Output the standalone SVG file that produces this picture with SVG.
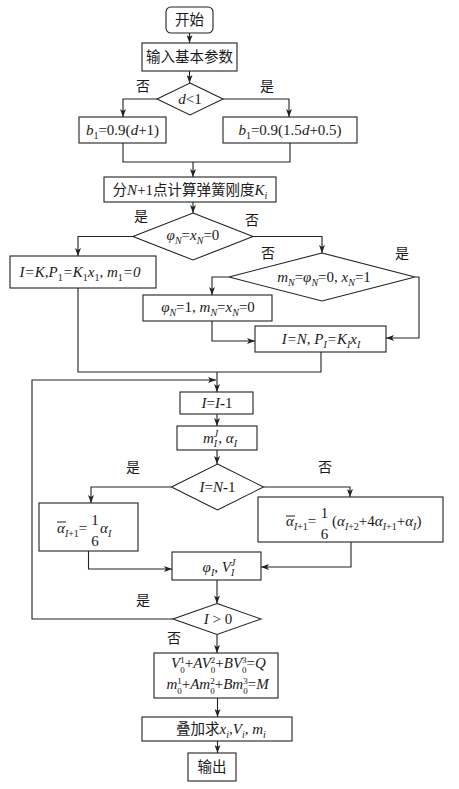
<svg xmlns="http://www.w3.org/2000/svg" width="459" height="789" viewBox="0 0 459 789">
<style>
.n{fill:#fff;stroke:#222;stroke-width:1.1}
.ln{fill:none;stroke:#222;stroke-width:1.1}
.m{font-family:"Liberation Serif","Noto Sans CJK SC",serif;font-size:15px;fill:#1a1a1a}
.mc{text-anchor:middle}
.i{font-style:italic}
.s{font-size:10px}
.t{font-size:9px}
.cj{font-family:"Noto Sans CJK SC",sans-serif;font-size:14.5px}
.lb{font-family:"Noto Sans CJK SC",sans-serif;font-size:14px;fill:#1a1a1a;text-anchor:middle}
</style>
<defs>
<marker id="a" viewBox="0 0 8 6" refX="8" refY="3" markerWidth="8" markerHeight="6" orient="auto" markerUnits="userSpaceOnUse"><path d="M0,0 L8,3 L0,6 L2,3 z" fill="#222"/></marker>
</defs>
<rect width="459" height="789" fill="#fff"/>
<g id="connectors">
<path class="ln" d="M189.5,33 V43" marker-end="url(#a)"/>
<path class="ln" d="M189.5,71 V83" marker-end="url(#a)"/>
<path class="ln" d="M157,99 H123 V117" marker-end="url(#a)"/>
<path class="ln" d="M223,99 H289 V117" marker-end="url(#a)"/>
<path class="ln" d="M123,143 V162 H290 V143"/>
<path class="ln" d="M193,162 V177" marker-end="url(#a)"/>
<path class="ln" d="M193,202 V213" marker-end="url(#a)"/>
<path class="ln" d="M133,236.5 H78 V256" marker-end="url(#a)"/>
<path class="ln" d="M253,236.5 H322 V253" marker-end="url(#a)"/>
<path class="ln" d="M229,277 H212 V295" marker-end="url(#a)"/>
<path class="ln" d="M415,277 H419 V338 H386" marker-end="url(#a)"/>
<path class="ln" d="M212,321 V341 H255" marker-end="url(#a)"/>
<path class="ln" d="M78,288 V372 H321 V352"/>
<path class="ln" d="M217,372 V392" marker-end="url(#a)"/>
<path class="ln" d="M173,619 H32 V380 H216" marker-end="url(#a)"/>
<path class="ln" d="M217,414 V426" marker-end="url(#a)"/>
<path class="ln" d="M217,450 V464" marker-end="url(#a)"/>
<path class="ln" d="M171.5,487 H91 V503" marker-end="url(#a)"/>
<path class="ln" d="M263.5,487 H350 V497" marker-end="url(#a)"/>
<path class="ln" d="M88.5,551 V569 H172" marker-end="url(#a)"/>
<path class="ln" d="M351,542 V567 H261" marker-end="url(#a)"/>
<path class="ln" d="M217,580 V603.5" marker-end="url(#a)"/>
<path class="ln" d="M217,634.5 V653" marker-end="url(#a)"/>
<path class="ln" d="M217.5,698 V717" marker-end="url(#a)"/>
<path class="ln" d="M217.5,741 V753" marker-end="url(#a)"/>
</g>
<g id="labels">
<text class="lb" x="143" y="91">否</text>
<text class="lb" x="267" y="91">是</text>
<text class="lb" x="141" y="221">是</text>
<text class="lb" x="252" y="225">否</text>
<text class="lb" x="268" y="258">否</text>
<text class="lb" x="402" y="258">是</text>
<text class="lb" x="133" y="472">是</text>
<text class="lb" x="325" y="472">否</text>
<text class="lb" x="143" y="605">是</text>
<text class="lb" x="174" y="643">否</text>
</g>
<g id="start">
<rect class="n" x="166" y="7" width="47" height="26" rx="5"/>
<text class="m mc" x="189.5" y="25"><tspan class="cj">开始</tspan></text>
</g>
<g id="input">
<rect class="n" x="142" y="43" width="95" height="28"/>
<text class="m mc" x="189.5" y="62"><tspan class="cj">输入基本参数</tspan></text>
</g>
<g id="dec-d">
<polygon class="n" points="190,83 223,99 190,115 157,99"/>
<text class="m mc" x="190" y="104"><tspan class="i">d</tspan>&lt;1</text>
</g>
<g id="b1-left">
<rect class="n" x="79" y="117" width="87" height="26"/>
<text class="m mc" x="122.5" y="135"><tspan class="i">b</tspan><tspan class="s" dy="4">1</tspan><tspan dy="-4">=0.9(</tspan><tspan class="i">d</tspan>+1)</text>
</g>
<g id="b1-right">
<rect class="n" x="223" y="117" width="134" height="26"/>
<text class="m mc" x="290" y="135"><tspan class="i">b</tspan><tspan class="s" dy="4">1</tspan><tspan dy="-4">=0.9(1.5</tspan><tspan class="i">d</tspan>+0.5)</text>
</g>
<g id="stiffness">
<rect class="n" x="104" y="177" width="172" height="25"/>
<text class="m mc" x="190" y="195"><tspan class="cj">分</tspan><tspan class="i">N</tspan>+1<tspan class="cj">点计算弹簧刚度</tspan><tspan class="i">K</tspan><tspan class="s i" dy="4">i</tspan></text>
</g>
<g id="dec-phi">
<polygon class="n" points="193,213 253,236.5 193,260 133,236.5"/>
<text class="m mc" x="193" y="240"><tspan class="i">φ</tspan><tspan class="s i" dy="4">N</tspan><tspan dy="-4">=</tspan><tspan class="i">x</tspan><tspan class="s i" dy="4">N</tspan><tspan dy="-4">=0</tspan></text>
</g>
<g id="init-k">
<rect class="n" x="10" y="256" width="146" height="32"/>
<text class="m mc i" x="80" y="277">I=K,P<tspan class="s" dy="4" font-style="normal">1</tspan><tspan dy="-4">=K</tspan><tspan class="s" dy="4" font-style="normal">1</tspan><tspan dy="-4">x</tspan><tspan class="s" dy="4" font-style="normal">1</tspan><tspan dy="-4">, m</tspan><tspan class="s" dy="4" font-style="normal">1</tspan><tspan dy="-4">=0</tspan></text>
</g>
<g id="dec-m">
<polygon class="n" points="322,253 415,277 322,301 229,277"/>
<text class="m mc" x="324" y="282"><tspan class="i">m</tspan><tspan class="s i" dy="4">N</tspan><tspan dy="-4">=</tspan><tspan class="i">φ</tspan><tspan class="s i" dy="4">N</tspan><tspan dy="-4">=0, </tspan><tspan class="i">x</tspan><tspan class="s i" dy="4">N</tspan><tspan dy="-4">=1</tspan></text>
</g>
<g id="set-phi">
<rect class="n" x="143" y="295" width="129" height="26"/>
<text class="m mc" x="208" y="312"><tspan class="i">φ</tspan><tspan class="s i" dy="4">N</tspan><tspan dy="-4">=1, </tspan><tspan class="i">m</tspan><tspan class="s i" dy="4">N</tspan><tspan dy="-4">=</tspan><tspan class="i">x</tspan><tspan class="s i" dy="4">N</tspan><tspan dy="-4">=0</tspan></text>
</g>
<g id="init-n">
<rect class="n" x="255" y="326" width="131" height="26"/>
<text class="m mc i" x="321" y="344">I=N, P<tspan class="s" dy="4">I</tspan><tspan dy="-4">=K</tspan><tspan class="s" dy="4">I</tspan><tspan dy="-4">x</tspan><tspan class="s" dy="4">I</tspan></text>
</g>
<g id="dec-i">
<rect class="n" x="180" y="392" width="73" height="22"/>
<text class="m mc" x="217" y="408"><tspan class="i">I</tspan>=<tspan class="i">I</tspan><tspan font-weight="bold">-</tspan>1</text>
</g>
<g id="m-alpha">
<rect class="n" x="177" y="426" width="80" height="24"/>
<text class="m mc" x="220" y="443"><tspan class="i">m</tspan><tspan class="s i" dy="4">I</tspan><tspan class="s i" dx="-3.3" dy="-10">J</tspan><tspan dy="6">, </tspan><tspan class="i">α</tspan><tspan class="s i" dy="4">I</tspan></text>
</g>
<g id="dec-n1">
<polygon class="n" points="217.5,464 263.5,487 217.5,510 171.5,487"/>
<text class="m mc" x="217.5" y="492"><tspan class="i">I</tspan>=<tspan class="i">N</tspan><tspan font-weight="bold">-</tspan>1</text>
</g>
<g id="alpha-left">
<rect class="n" x="39" y="503" width="99" height="48"/>
<line x1="57" y1="522" x2="66" y2="522" stroke="#1a1a1a" stroke-width="1"/>
<text class="m" x="57" y="533"><tspan class="i">α</tspan><tspan class="s" dy="4"><tspan class="i">I</tspan>+1</tspan><tspan dy="-4">=</tspan></text>
<text class="m mc" x="95" y="525">1</text>
<text class="m mc" x="95" y="546">6</text>
<text class="m" x="100" y="533"><tspan class="i">α</tspan><tspan class="s i" dy="4">I</tspan></text>
</g>
<g id="alpha-right">
<rect class="n" x="258" y="497" width="185" height="45"/>
<line x1="286" y1="516" x2="295" y2="516" stroke="#1a1a1a" stroke-width="1"/>
<text class="m" x="286" y="526"><tspan class="i">α</tspan><tspan class="s" dy="4"><tspan class="i">I</tspan>+1</tspan><tspan dy="-4">=</tspan></text>
<text class="m mc" x="324.5" y="518">1</text>
<text class="m mc" x="324.5" y="539">6</text>
<text class="m" x="332" y="526">(<tspan class="i">α</tspan><tspan class="s" dy="4"><tspan class="i">I</tspan>+2</tspan><tspan dy="-4">+4</tspan><tspan class="i">α</tspan><tspan class="s" dy="4"><tspan class="i">I</tspan>+1</tspan><tspan dy="-4">+</tspan><tspan class="i">α</tspan><tspan class="s i" dy="4">I</tspan><tspan dy="-4">)</tspan></text>
</g>
<g id="phi-v">
<rect class="n" x="172" y="552" width="89" height="28"/>
<text class="m mc" x="219" y="572"><tspan class="i">φ</tspan><tspan class="s i" dy="4">I</tspan><tspan dy="-4">, </tspan><tspan class="i">V</tspan><tspan class="s i" dy="4">I</tspan><tspan class="s i" dx="-3.3" dy="-10">J</tspan></text>
</g>
<g id="dec-pos">
<polygon class="n" points="217,603.5 261,619 217,634.5 173,619"/>
<text class="m mc" x="218" y="624"><tspan class="i">I</tspan> &gt; 0</text>
</g>
<g id="boundary">
<rect class="n" x="154" y="653" width="124" height="45"/>
<text class="m mc" x="218.5" y="668" font-size="14.5"><tspan class="i">V</tspan><tspan class="t" dy="-5.5">1</tspan><tspan class="t" dx="-4.5" dy="10.5">0</tspan><tspan dy="-5">+</tspan><tspan class="i">AV</tspan><tspan class="t" dy="-5.5">2</tspan><tspan class="t" dx="-4.5" dy="10.5">0</tspan><tspan dy="-5">+</tspan><tspan class="i">BV</tspan><tspan class="t" dy="-5.5">3</tspan><tspan class="t" dx="-4.5" dy="10.5">0</tspan><tspan dy="-5">=</tspan><tspan class="i">Q</tspan></text>
<text class="m mc" x="217.5" y="689" font-size="14.5"><tspan class="i">m</tspan><tspan class="t" dy="-5.5">1</tspan><tspan class="t" dx="-4.5" dy="10.5">0</tspan><tspan dy="-5">+</tspan><tspan class="i">Am</tspan><tspan class="t" dy="-5.5">2</tspan><tspan class="t" dx="-4.5" dy="10.5">0</tspan><tspan dy="-5">+</tspan><tspan class="i">Bm</tspan><tspan class="t" dy="-5.5">3</tspan><tspan class="t" dx="-4.5" dy="10.5">0</tspan><tspan dy="-5">=</tspan><tspan class="i">M</tspan></text>
</g>
<g id="superpose">
<rect class="n" x="142" y="717" width="150" height="24"/>
<text class="m mc" x="221" y="734"><tspan class="cj">叠加求</tspan><tspan class="i">x</tspan><tspan class="s i" dy="4">i</tspan><tspan dy="-4">,</tspan><tspan class="i">V</tspan><tspan class="s i" dy="4">i</tspan><tspan dy="-4">, </tspan><tspan class="i">m</tspan><tspan class="s i" dy="4">i</tspan></text>
</g>
<g id="output">
<rect class="n" x="188" y="753" width="48" height="28"/>
<text class="m mc" x="212" y="772"><tspan class="cj">输出</tspan></text>
</g>
</svg>
